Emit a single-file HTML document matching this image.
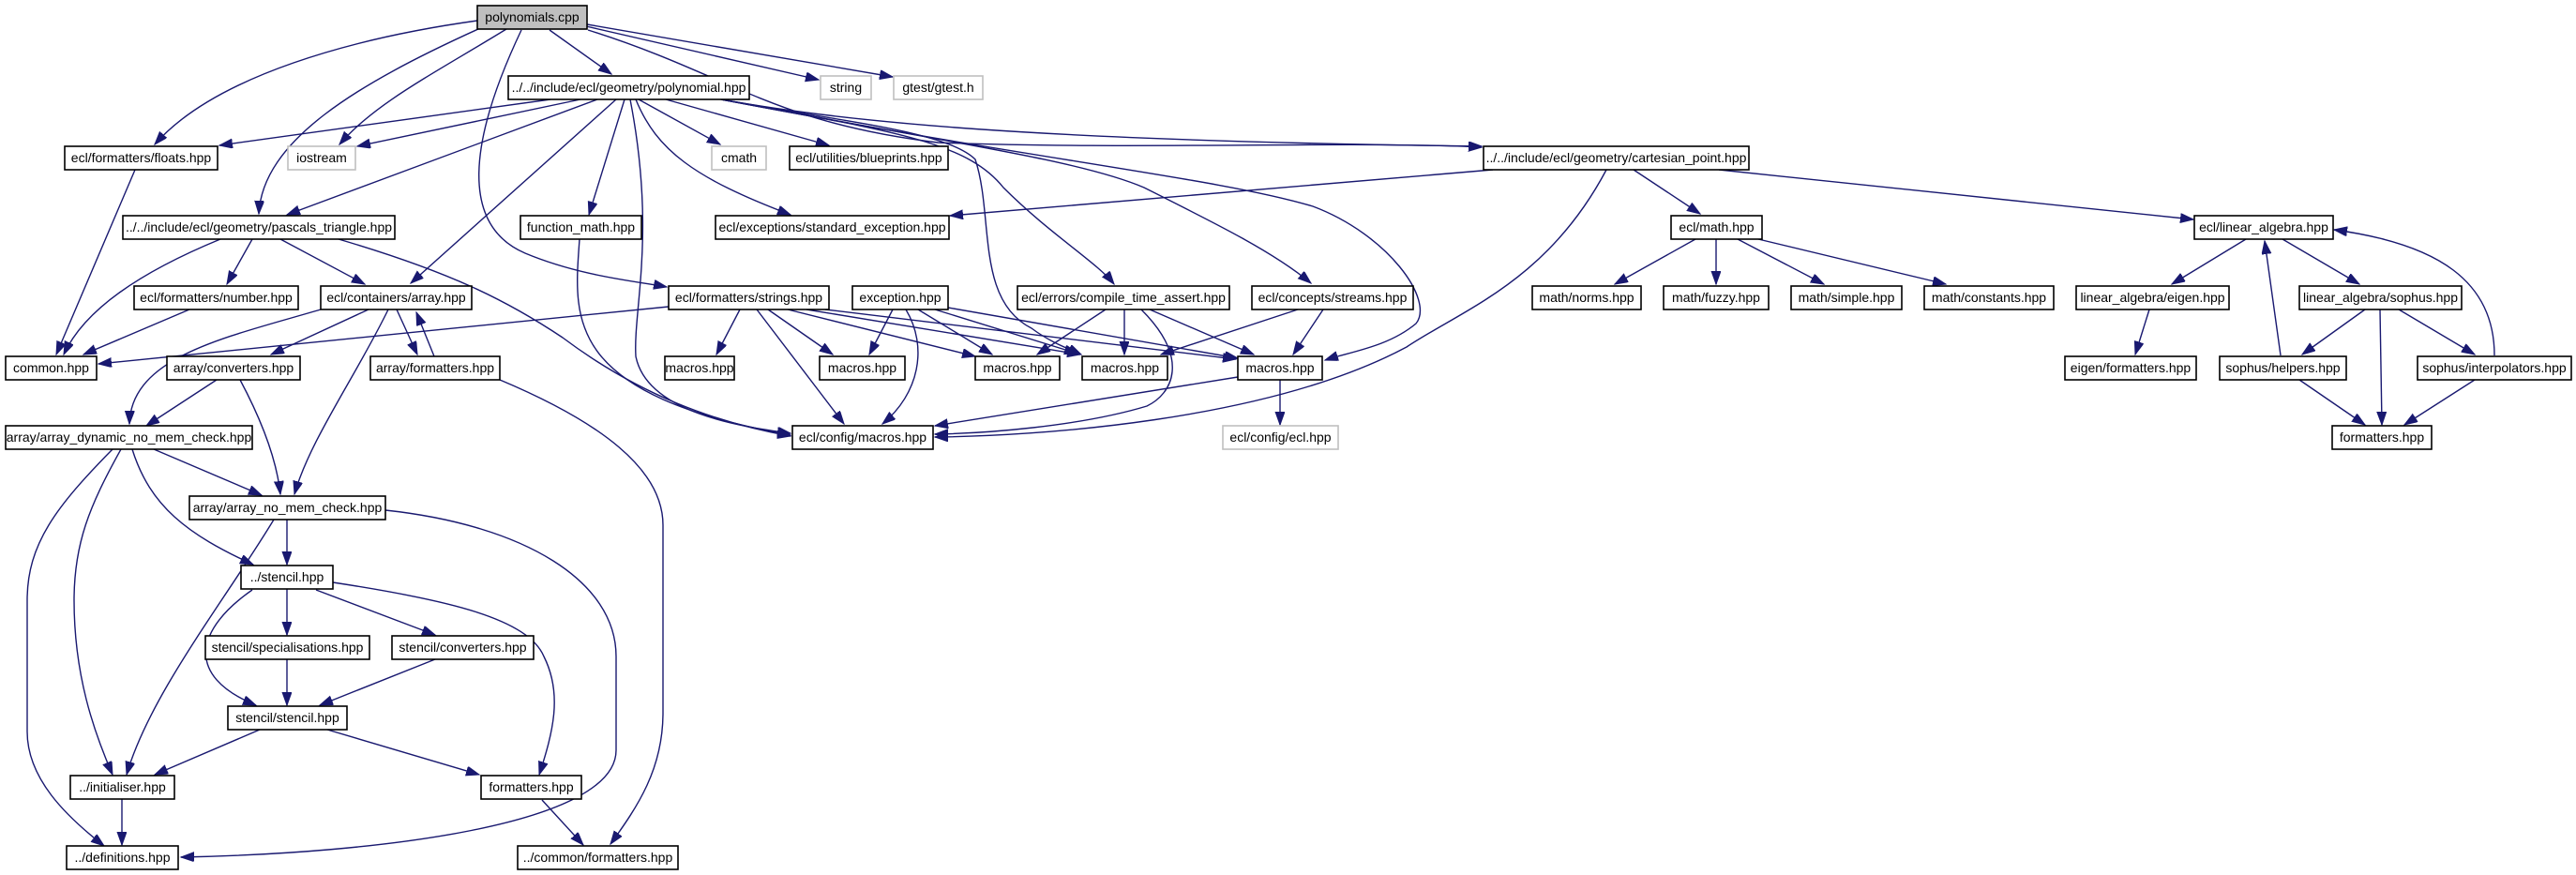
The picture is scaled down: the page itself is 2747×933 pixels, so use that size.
<!DOCTYPE html>
<html><head><meta charset="utf-8"><style>
html,body{margin:0;padding:0;background:#fff;}
svg{display:block;}
text{font-family:"Liberation Sans",sans-serif;font-size:14px;fill:#000;text-anchor:middle;}
.n{fill:#fff;stroke:#000;stroke-width:1.6;}
.g{fill:#fff;stroke:#bfbfbf;stroke-width:1.6;}
.r{fill:#bfbfbf;stroke:#000;stroke-width:1.6;}
path{fill:none;stroke:#191970;stroke-width:1.4;marker-end:url(#a);}
</style></head><body>
<svg width="2747" height="933" viewBox="0 0 2747 933" xmlns="http://www.w3.org/2000/svg">
<defs><marker id="a" markerUnits="userSpaceOnUse" markerWidth="16" markerHeight="12" refX="14" refY="5" orient="auto"><polygon points="0,0 14,5 0,10" fill="#191970" stroke="#191970"/></marker></defs>
<g>
<!-- polynomials.cpp -->
<path d="M509,22 C380,40 230,80 165,154"/>
<path d="M510,31 C380,90 280,150 276,228"/>
<path d="M540,31 C460,80 400,110 362,154"/>
<path d="M556,32 C500,150 490,240 560,270 C620,295 680,300 711,306"/>
<path d="M586,32 L652,79"/>
<path d="M625,28 L873,85"/>
<path d="M626,26 L952,82"/>
<path d="M627,32 C780,80 820,130 1000,152 C1200,160 1450,150 1580,157"/>
<!-- polynomial.hpp -->
<path d="M587,106 L234,155"/>
<path d="M619,106 L381,156"/>
<path d="M637,106 L306,229"/>
<path d="M657,106 L438,302"/>
<path d="M666,106 L628,229"/>
<path d="M672,106 C700,250 675,330 678,380 C690,440 790,455 843,462"/>
<path d="M681,106 L768,154"/>
<path d="M710,106 L884,155"/>
<path d="M678,106 C700,160 740,190 843,229"/>
<path d="M769,106 C900,130 1010,140 1040,170 C1060,230 1040,320 1100,350 C1120,365 1140,372 1153,378"/>
<path d="M769,106 C950,140 1030,150 1070,200 C1120,250 1170,280 1188,303"/>
<path d="M769,106 C1000,150 1150,170 1220,200 C1300,240 1360,270 1398,302"/>
<path d="M769,106 C1100,170 1300,190 1400,220 C1480,250 1530,320 1510,345 C1480,370 1440,375 1413,384"/>
<path d="M769,106 C900,130 1100,150 1580,156"/>
<!-- floats, pascal, function_math -->
<path d="M144,181 L60,378"/>
<path d="M235,255 C150,290 90,330 68,378"/>
<path d="M269,255 L242,303"/>
<path d="M299,255 L389,303"/>
<path d="M361,255 C480,290 540,320 600,360 C680,420 760,450 843,465"/>
<path d="M618,255 C612,340 600,420 843,464"/>
<!-- number, array -->
<path d="M202,330 L89,378"/>
<path d="M342,330 C240,360 140,380 138,452"/>
<path d="M393,330 L289,378"/>
<path d="M414,330 C380,400 330,470 314,527"/>
<path d="M423,330 L445,378"/>
<path d="M463,380 L444,333"/>
<path d="M533,405 C640,450 707,500 707,560 L707,760 C707,820 680,860 651,900"/>
<!-- strings -->
<path d="M713,327 L105,388"/>
<path d="M789,330 L764,378"/>
<path d="M807,330 L900,452"/>
<path d="M819,330 L888,378"/>
<path d="M840,330 L1040,380"/>
<path d="M860,330 L1152,378"/>
<path d="M880,330 L1318,383"/>
<!-- exception -->
<path d="M952,330 L927,378"/>
<path d="M966,330 C990,370 980,420 941,452"/>
<path d="M979,330 L1058,378"/>
<path d="M997,330 L1149,377"/>
<path d="M1011,328 L1320,382"/>
<!-- compile_time_assert -->
<path d="M1179,330 L1106,378"/>
<path d="M1199,330 L1199,378"/>
<path d="M1217,330 C1270,383 1250,420 1223,433 C1150,455 1050,462 997,463"/>
<path d="M1226,330 L1337,378"/>
<!-- streams -->
<path d="M1384,330 L1238,378"/>
<path d="M1411,330 L1379,378"/>
<!-- macros5 -->
<path d="M1320,402 L997,454"/>
<path d="M1365,405 L1365,453"/>
<!-- cartesian -->
<path d="M1592,181 L1013,230"/>
<path d="M1742,181 L1813,228"/>
<path d="M1713,181 C1650,300 1560,330 1500,370 C1350,450 1100,465 997,466"/>
<path d="M1833,181 L2339,234"/>
<!-- ecl/math -->
<path d="M1808,255 L1722,303"/>
<path d="M1830,255 L1830,303"/>
<path d="M1853,255 L1945,303"/>
<path d="M1875,255 L2075,303"/>
<!-- linear algebra -->
<path d="M2395,255 L2316,303"/>
<path d="M2434,255 L2516,303"/>
<path d="M2292,330 L2277,378"/>
<path d="M2522,330 L2455,378"/>
<path d="M2538,330 L2540,453"/>
<path d="M2558,330 L2639,378"/>
<path d="M2432,379 L2415,257"/>
<path d="M2660,379 C2660,300 2600,260 2489,245"/>
<path d="M2452,405 L2522,453"/>
<path d="M2639,405 L2564,453"/>
<!-- converters -->
<path d="M231,405 L156,454"/>
<path d="M256,405 C280,450 295,490 299,527"/>
<!-- array_dynamic -->
<path d="M120,479 C60,540 29,580 29,640 L29,780 C29,830 70,870 111,902"/>
<path d="M129,479 C95,540 79,580 79,640 C79,720 100,780 120,826"/>
<path d="M141,479 C160,540 200,570 270,602"/>
<path d="M164,479 L279,528"/>
<!-- array_no_mem -->
<path d="M292,554 C240,640 160,740 135,826"/>
<path d="M306,554 L306,602"/>
<path d="M411,544 C560,560 657,620 657,700 L657,800 C657,880 400,910 193,914"/>
<!-- stencil -->
<path d="M306,628 L306,677"/>
<path d="M337,629 L464,677"/>
<path d="M269,629 C210,670 195,720 273,752"/>
<path d="M355,621 C480,640 563,660 580,700 C600,740 590,780 575,826"/>
<path d="M306,703 L306,752"/>
<path d="M464,703 L341,752"/>
<path d="M277,778 L165,826"/>
<path d="M349,778 L511,826"/>
<path d="M130,852 L130,901"/>
<path d="M578,853 L622,901"/>
</g>
<g>
<rect class="r" x="509" y="6" width="117" height="25"/><text x="567.5" y="23">polynomials.cpp</text>
<rect class="n" x="542" y="81" width="257" height="25"/><text x="670.5" y="98">../../include/ecl/geometry/polynomial.hpp</text>
<rect class="g" x="875" y="81" width="54" height="25"/><text x="902" y="98">string</text>
<rect class="g" x="953" y="81" width="95" height="25"/><text x="1000.5" y="98">gtest/gtest.h</text>
<rect class="n" x="69" y="156" width="163" height="25"/><text x="150.5" y="173">ecl/formatters/floats.hpp</text>
<rect class="g" x="307" y="156" width="72" height="25"/><text x="343" y="173">iostream</text>
<rect class="g" x="759" y="156" width="58" height="25"/><text x="788" y="173">cmath</text>
<rect class="n" x="842" y="156" width="169" height="25"/><text x="926.5" y="173">ecl/utilities/blueprints.hpp</text>
<rect class="n" x="1582" y="156" width="283" height="25"/><text x="1723.5" y="173">../../include/ecl/geometry/cartesian_point.hpp</text>
<rect class="n" x="131" y="230" width="290" height="25"/><text x="276" y="247">../../include/ecl/geometry/pascals_triangle.hpp</text>
<rect class="n" x="555" y="230" width="129" height="25"/><text x="619.5" y="247">function_math.hpp</text>
<rect class="n" x="763" y="230" width="249" height="25"/><text x="887.5" y="247">ecl/exceptions/standard_exception.hpp</text>
<rect class="n" x="1782" y="230" width="97" height="25"/><text x="1830.5" y="247">ecl/math.hpp</text>
<rect class="n" x="2340" y="230" width="148" height="25"/><text x="2414" y="247">ecl/linear_algebra.hpp</text>
<rect class="n" x="143" y="305" width="175" height="25"/><text x="230.5" y="322">ecl/formatters/number.hpp</text>
<rect class="n" x="342" y="305" width="161" height="25"/><text x="422.5" y="322">ecl/containers/array.hpp</text>
<rect class="n" x="713" y="305" width="171" height="25"/><text x="798.5" y="322">ecl/formatters/strings.hpp</text>
<rect class="n" x="909" y="305" width="102" height="25"/><text x="960" y="322">exception.hpp</text>
<rect class="n" x="1085" y="305" width="226" height="25"/><text x="1198" y="322">ecl/errors/compile_time_assert.hpp</text>
<rect class="n" x="1335" y="305" width="172" height="25"/><text x="1421" y="322">ecl/concepts/streams.hpp</text>
<rect class="n" x="1634" y="305" width="116" height="25"/><text x="1692" y="322">math/norms.hpp</text>
<rect class="n" x="1774" y="305" width="112" height="25"/><text x="1830" y="322">math/fuzzy.hpp</text>
<rect class="n" x="1910" y="305" width="118" height="25"/><text x="1969" y="322">math/simple.hpp</text>
<rect class="n" x="2052" y="305" width="138" height="25"/><text x="2121" y="322">math/constants.hpp</text>
<rect class="n" x="2214" y="305" width="163" height="25"/><text x="2295.5" y="322">linear_algebra/eigen.hpp</text>
<rect class="n" x="2452" y="305" width="173" height="25"/><text x="2538.5" y="322">linear_algebra/sophus.hpp</text>
<rect class="n" x="6" y="380" width="97" height="25"/><text x="54.5" y="397">common.hpp</text>
<rect class="n" x="178" y="380" width="142" height="25"/><text x="249" y="397">array/converters.hpp</text>
<rect class="n" x="395" y="380" width="138" height="25"/><text x="464" y="397">array/formatters.hpp</text>
<rect class="n" x="709" y="380" width="74" height="25"/><text x="746" y="397">macros.hpp</text>
<rect class="n" x="874" y="380" width="91" height="25"/><text x="919.5" y="397">macros.hpp</text>
<rect class="n" x="1040" y="380" width="90" height="25"/><text x="1085" y="397">macros.hpp</text>
<rect class="n" x="1154" y="380" width="91" height="25"/><text x="1199.5" y="397">macros.hpp</text>
<rect class="n" x="1320" y="380" width="90" height="25"/><text x="1365" y="397">macros.hpp</text>
<rect class="n" x="2202" y="380" width="140" height="25"/><text x="2272" y="397">eigen/formatters.hpp</text>
<rect class="n" x="2367" y="380" width="135" height="25"/><text x="2434.5" y="397">sophus/helpers.hpp</text>
<rect class="n" x="2578" y="380" width="164" height="25"/><text x="2660" y="397">sophus/interpolators.hpp</text>
<rect class="n" x="6" y="454" width="263" height="25"/><text x="137.5" y="471">array/array_dynamic_no_mem_check.hpp</text>
<rect class="n" x="845" y="454" width="150" height="25"/><text x="920" y="471">ecl/config/macros.hpp</text>
<rect class="g" x="1304" y="454" width="123" height="25"/><text x="1365.5" y="471">ecl/config/ecl.hpp</text>
<rect class="n" x="2487" y="454" width="106" height="25"/><text x="2540" y="471">formatters.hpp</text>
<rect class="n" x="202" y="529" width="209" height="25"/><text x="306.5" y="546">array/array_no_mem_check.hpp</text>
<rect class="n" x="257" y="603" width="98" height="25"/><text x="306" y="620">../stencil.hpp</text>
<rect class="n" x="219" y="678" width="175" height="25"/><text x="306.5" y="695">stencil/specialisations.hpp</text>
<rect class="n" x="418" y="678" width="151" height="25"/><text x="493.5" y="695">stencil/converters.hpp</text>
<rect class="n" x="243" y="753" width="127" height="25"/><text x="306.5" y="770">stencil/stencil.hpp</text>
<rect class="n" x="75" y="827" width="111" height="25"/><text x="130.5" y="844">../initialiser.hpp</text>
<rect class="n" x="513" y="827" width="107" height="25"/><text x="566.5" y="844">formatters.hpp</text>
<rect class="n" x="71" y="902" width="119" height="25"/><text x="130.5" y="919">../definitions.hpp</text>
<rect class="n" x="552" y="902" width="171" height="25"/><text x="637.5" y="919">../common/formatters.hpp</text>
</g>
</svg>
</body></html>
